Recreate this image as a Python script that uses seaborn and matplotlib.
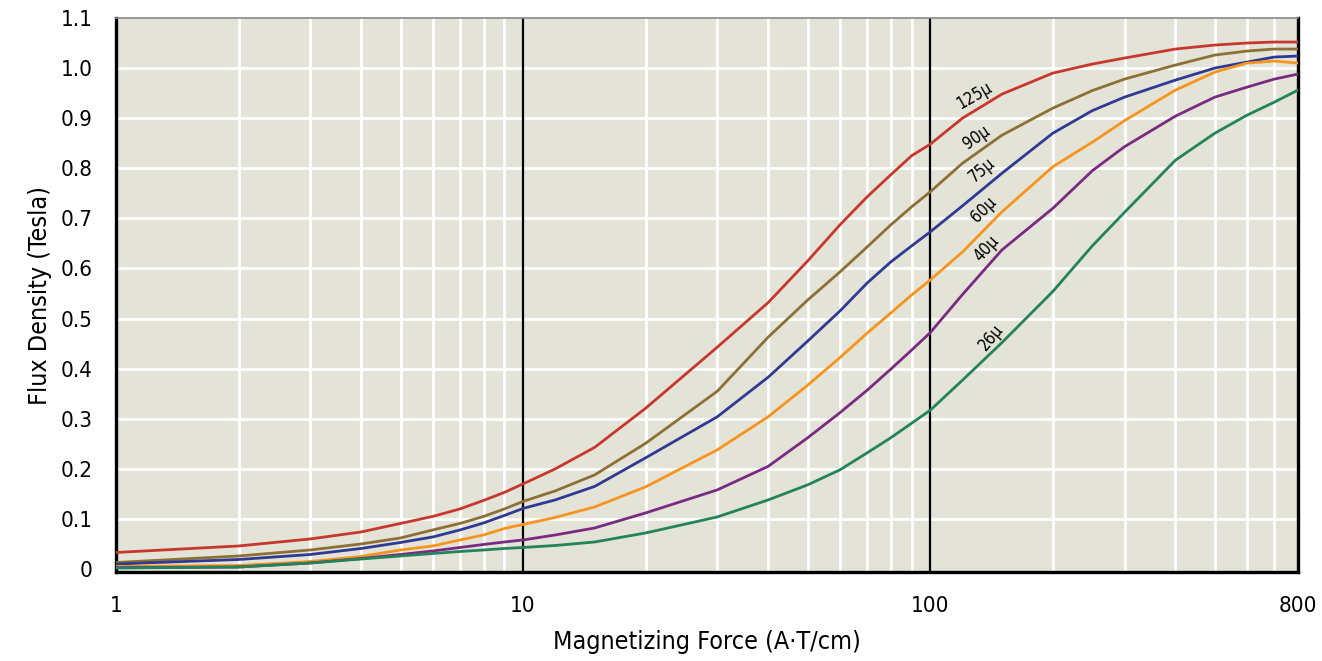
import numpy as np
import pandas as pd
import matplotlib
matplotlib.use('Agg')
import matplotlib.pyplot as plt
from matplotlib.ticker import FixedLocator, NullFormatter
import seaborn as sns

# magnetizing force (A·T/cm), shared by all curves
force = [1, 2, 3, 4, 5, 6, 7, 8, 9, 10,
         12, 15, 20, 30, 40, 50, 60, 70, 80, 90,
         100, 120, 150, 200, 250, 300, 400, 500, 600, 700,
         800]

# flux density (Tesla) per permeability
mu125 = [0.033, 0.046, 0.060, 0.074, 0.091, 0.105, 0.120, 0.137, 0.153, 0.170,
         0.200, 0.243, 0.321, 0.443, 0.532, 0.615, 0.687, 0.743, 0.787, 0.825,
         0.848, 0.900, 0.948, 0.990, 1.008, 1.020, 1.038, 1.046, 1.050, 1.052,
         1.052]
mu90 = [0.013, 0.026, 0.038, 0.050, 0.062, 0.078, 0.091, 0.105, 0.120, 0.135,
        0.156, 0.188, 0.251, 0.355, 0.463, 0.537, 0.593, 0.643, 0.687, 0.723,
        0.753, 0.810, 0.866, 0.920, 0.955, 0.978, 1.006, 1.026, 1.034, 1.038,
        1.038]
mu75 = [0.010, 0.019, 0.029, 0.041, 0.053, 0.064, 0.078, 0.092, 0.107, 0.121,
        0.138, 0.165, 0.222, 0.304, 0.383, 0.455, 0.515, 0.571, 0.613, 0.645,
        0.673, 0.725, 0.790, 0.870, 0.915, 0.942, 0.976, 1.000, 1.012, 1.022,
        1.024]
mu60 = [0.005, 0.007, 0.015, 0.025, 0.038, 0.046, 0.058, 0.068, 0.081, 0.089,
        0.103, 0.124, 0.164, 0.238, 0.304, 0.367, 0.422, 0.471, 0.511, 0.547,
        0.577, 0.633, 0.713, 0.803, 0.852, 0.895, 0.956, 0.992, 1.010, 1.014,
        1.010]
mu40 = [0.003, 0.004, 0.012, 0.021, 0.029, 0.036, 0.043, 0.049, 0.054, 0.058,
        0.068, 0.082, 0.112, 0.158, 0.205, 0.262, 0.312, 0.357, 0.399, 0.437,
        0.472, 0.548, 0.637, 0.720, 0.795, 0.843, 0.904, 0.942, 0.962, 0.978,
        0.988]
mu26 = [0.002, 0.004, 0.012, 0.020, 0.026, 0.031, 0.035, 0.038, 0.041, 0.043,
        0.047, 0.054, 0.072, 0.104, 0.138, 0.168, 0.198, 0.232, 0.262, 0.291,
        0.317, 0.377, 0.452, 0.554, 0.645, 0.712, 0.816, 0.870, 0.906, 0.932,
        0.956]

series = ['125µ', '90µ', '75µ', '60µ', '40µ', '26µ']
values = [mu125, mu90, mu75, mu60, mu40, mu26]
colors = ['#c8372d', '#8c7035', '#2e3a94', '#f7941d', '#7a2a82', '#23845a']

# curve label positions (force, flux, angle)
label_x = [128, 130, 134, 135, 137, 141]
label_y = [0.944, 0.862, 0.797, 0.718, 0.640, 0.462]
label_rot = [30, 35, 40, 45, 47, 50]

rows = []
for name, vals in zip(series, values):
    for f, b in zip(force, vals):
        rows.append({'force': f, 'flux': b, 'perm': name})
df = pd.DataFrame(rows)

sns.set_style('white')
plt.rcParams['font.family'] = ['DejaVu Sans']
plt.rcParams['font.stretch'] = 'condensed'
plt.rcParams['text.color'] = 'black'
plt.rcParams['axes.labelcolor'] = 'black'
plt.rcParams['xtick.color'] = 'black'
plt.rcParams['ytick.color'] = 'black'

fig = plt.figure(figsize=(13.22, 6.61), dpi=100)
ax = fig.add_axes([0.0877, 0.1346, 0.8941, 0.8382])
ax.set_facecolor('#e3e3d7')

sns.lineplot(data=df, x='force', y='flux', hue='perm', hue_order=series,
             palette=colors, linewidth=2, legend=False, ax=ax, zorder=3)

ax.set_xscale('log')
ax.set_xlim(1, 800)
ax.set_ylim(-0.006, 1.1)

# grid lines
minor = [m * d for d in [1, 10, 100] for m in range(2, 10) if m * d < 800]
for v in minor:
    ax.axvline(v, color='white', lw=2, zorder=1)
for v in [10, 100]:
    ax.axvline(v, color='black', lw=1.6, zorder=2)
for v in np.arange(0.1, 1.05, 0.1):
    ax.axhline(v, color='white', lw=2, zorder=1)

ax.xaxis.set_major_locator(FixedLocator([1, 10, 100, 800]))
ax.xaxis.set_minor_locator(FixedLocator([]))
ax.xaxis.set_minor_formatter(NullFormatter())
ax.set_xticklabels(['1', '10', '100', '800'])
yt = [round(0.1 * i, 1) for i in range(12)]
ax.set_yticks(yt)
ax.set_yticklabels(['0'] + [f'{v:.1f}' for v in yt[1:]])
ax.tick_params(axis='both', labelsize=16, width=2.2, color='black', direction='out')
ax.tick_params(axis='x', length=9, pad=8)
ax.tick_params(axis='y', length=11, pad=6)

for s in ['left', 'bottom', 'right']:
    ax.spines[s].set_color('black')
    ax.spines[s].set_linewidth(2.4)
ax.spines['top'].set_color('#888888')
ax.spines['top'].set_linewidth(1.2)

for name, lx, ly, r in zip(series, label_x, label_y, label_rot):
    ax.text(lx, ly, name, rotation=r, fontsize=12, ha='center', va='center', zorder=4)

ax.set_xlabel('Magnetizing Force (A·T/cm)', fontsize=18, labelpad=10)
ax.set_ylabel('Flux Density (Tesla)', fontsize=18, labelpad=6)

fig.savefig('out.png', dpi=100)
